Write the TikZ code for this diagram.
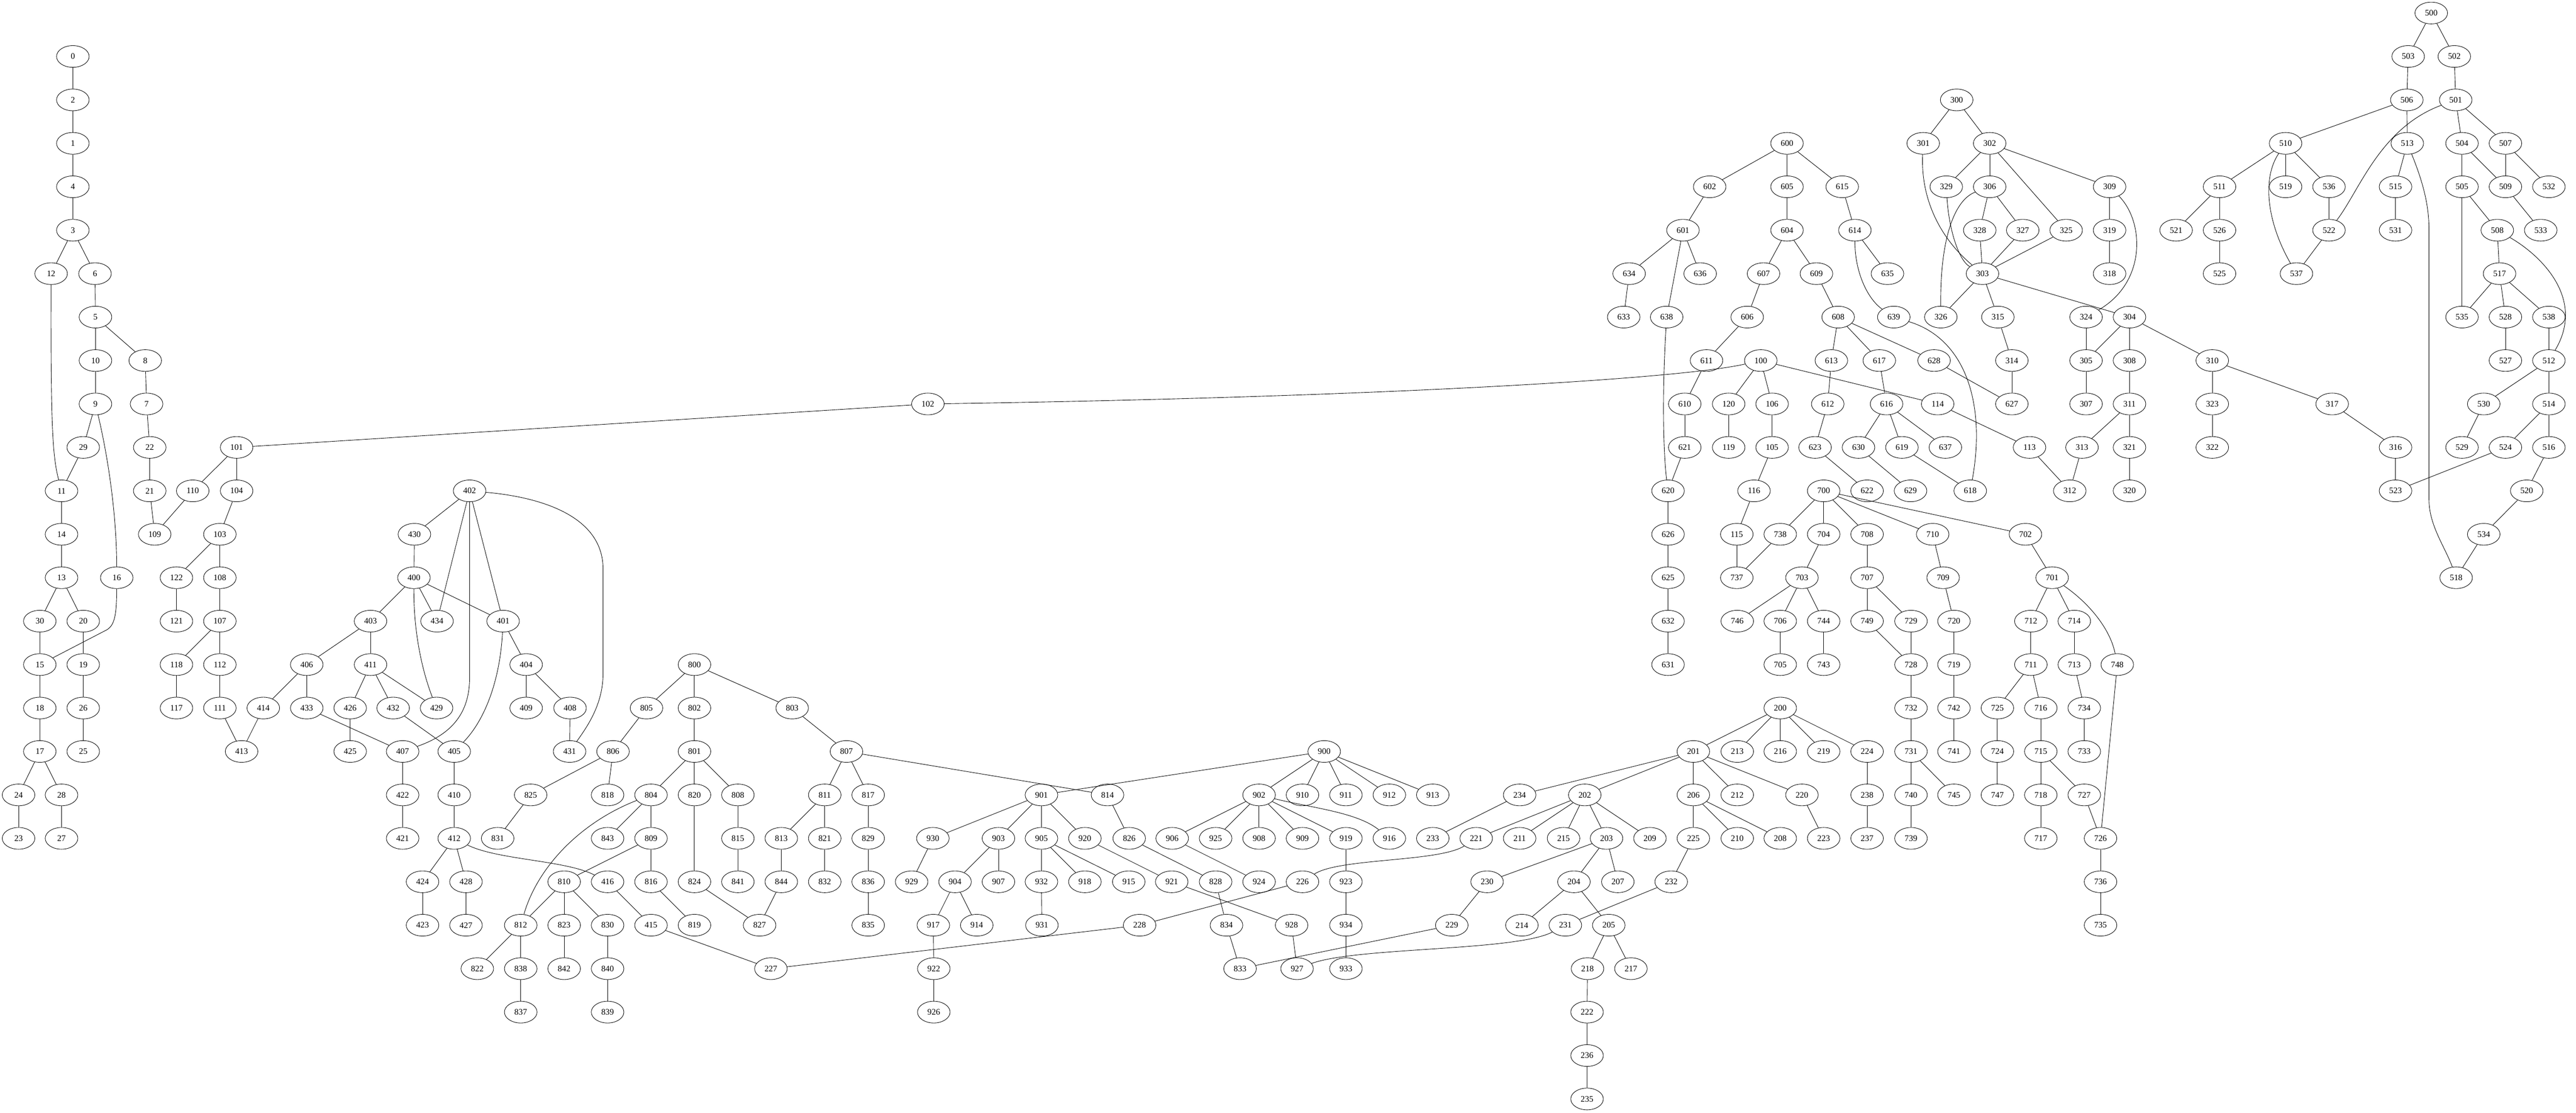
\documentclass[tikz,border=0pt]{standalone}
\usepackage{fontspec}
\setmainfont{Liberation Serif}
\usetikzlibrary{shapes.geometric}
\tikzset{
  g/.style={draw, ellipse, minimum width=54pt, minimum height=36pt, inner sep=0pt, line width=0.75pt, font=\fontsize{14}{16}\selectfont},
  e/.style={line width=0.75pt}
}
\begin{document}
\begin{tikzpicture}[x=0.75pt, y=-72pt]
\fill[white] (0,-0.3) rectangle (5694,25.315);
\useasboundingbox (0,-0.3) rectangle (5694,25.315);
% nodes
\foreach \n/\x/\r in {
0/161/1, 2/161/2, 1/161/3, 4/161/4, 3/161/5, 12/113/6, 6/210/6, 5/211/7, 10/211/8, 8/321/8, 9/211/9, 7/324/9, 29/184/10, 22/331/10, 101/523/10, 11/136/11, 21/331/11, 110/426/11, 104/523/11, 402/1038/11, 14/136/12, 109/342/12, 103/486/12, 430/916/12, 13/136/13, 16/258/13, 122/390/13, 108/486/13, 400/915/13, 30/88/14, 20/184/14, 121/390/14, 107/486/14, 403/819/14, 434/966/14, 401/1112/14, 15/88/15, 19/184/15, 118/390/15, 112/486/15, 406/678/15, 411/819/15, 404/1163/15, 18/88/16, 26/184/16, 117/390/16, 111/486/16, 414/582/16, 433/678/16, 426/774/16, 432/869/16, 429/965/16, 409/1163/16, 408/1260/16, 17/88/17, 25/184/17, 413/534/17, 425/774/17, 407/890/17, 405/1004/17, 431/1259/17, 24/41/18, 28/136/18, 422/890/18, 410/1004/18, 23/41/19, 27/136/19, 421/890/19, 412/1004/19, 424/934/20, 428/1030/20, 423/934/21, 427/1030/21,
800/1535/15, 805/1429/16, 802/1535/16, 803/1751/16, 806/1355/17, 801/1535/17, 807/1871/17, 825/1173/18, 818/1343/18, 804/1439/18, 820/1535/18, 808/1631/18, 811/1823/18, 817/1919/18, 814/2448/18, 831/1100/19, 843/1343/19, 809/1439/19, 815/1631/19, 813/1727/19, 821/1823/19, 829/1919/19, 826/2496/19, 810/1247/20, 416/1343/20, 816/1439/20, 824/1535/20, 841/1631/20, 844/1727/20, 832/1823/20, 836/1919/20, 828/2687/20, 812/1151/21, 823/1247/21, 830/1343/21, 415/1439/21, 819/1535/21, 827/1679/21, 835/1919/21, 834/2711/21, 822/1055/22, 838/1151/22, 842/1247/22, 840/1343/22, 227/1704/22, 833/2741/22, 837/1151/23, 839/1343/23,
900/2927/17, 901/2302/18, 902/2783/18, 910/2879/18, 911/2975/18, 912/3071/18, 913/3167/18, 930/2062/19, 903/2207/19, 905/2302/19, 920/2398/19, 906/2591/19, 925/2687/19, 908/2783/19, 909/2879/19, 919/2975/19, 916/3071/19, 929/2015/20, 904/2111/20, 907/2207/20, 932/2302/20, 918/2398/20, 915/2495/20, 921/2590/20, 924/2783/20, 226/2879/20, 923/2975/20, 917/2063/21, 914/2159/21, 931/2303/21, 228/2519/21, 928/2855/21, 934/2975/21, 922/2064/22, 927/2867/22, 933/2975/22, 926/2064/23,
200/3935/16, 201/3743/17, 213/3840/17, 216/3935/17, 219/4031/17, 224/4127/17, 234/3359/18, 202/3503/18, 206/3743/18, 212/3840/18, 220/3983/18, 238/4127/18, 233/3167/19, 221/3263/19, 211/3359/19, 215/3456/19, 203/3551/19, 209/3647/19, 225/3743/19, 210/3840/19, 208/3935/19, 223/4031/19, 237/4127/19, 230/3287/20, 204/3479/20, 207/3576/20, 232/3694/20, 229/3209/21, 214/3364/21, 231/3460/21, 205/3556/21, 218/3509/22, 217/3605/22, 222/3508/23, 236/3508/24, 235/3508/25,
102/2051/9,
600/3950/3, 602/3779/4, 605/3950/4, 615/4072/4, 601/3720/5, 604/3950/5, 614/4100/5, 634/3601/6, 636/3758/6, 607/3898/6, 609/4015/6, 635/4172/6, 633/3589/7, 638/3684/7, 606/3862/7, 608/4063/7, 639/4186/7, 611/3772/8, 100/3892/8, 613/4048/8, 617/4154/8, 628/4275/8, 610/3724/9, 120/3821/9, 106/3917/9, 612/4040/9, 616/4170/9, 114/4283/9, 621/3724/10, 119/3821/10, 105/3917/10, 623/4012/10, 630/4108/10, 619/4204/10, 637/4300/10, 620/3687/11, 116/3877/11, 700/4031/11, 622/4127/11, 629/4223/11, 618/4355/11, 626/3687/12, 115/3839/12, 738/3935/12, 704/4031/12, 708/4127/12, 710/4272/12, 702/4477/12, 625/3687/13, 737/3839/13, 703/3983/13, 707/4127/13, 709/4295/13, 701/4536/13, 632/3687/14, 746/3840/14, 706/3935/14, 744/4031/14, 749/4127/14, 729/4224/14, 720/4319/14, 712/4489/14, 714/4585/14, 631/3687/15, 705/3935/15, 743/4031/15, 728/4224/15, 719/4319/15, 711/4489/15, 713/4585/15, 748/4680/15, 732/4224/16, 742/4319/16, 725/4415/16, 716/4511/16, 734/4607/16, 731/4224/17, 741/4319/17, 724/4415/17, 715/4511/17, 733/4607/17, 740/4224/18, 745/4319/18, 747/4415/18, 718/4511/18, 727/4607/18, 739/4224/19, 717/4511/19, 726/4643/19, 736/4643/20, 735/4643/21,
300/4325/2, 301/4251/3, 302/4398/3, 329/4302/4, 306/4398/4, 309/4663/4, 328/4376/5, 327/4471/5, 325/4567/5, 319/4663/5, 303/4382/6, 318/4663/6, 326/4290/7, 315/4416/7, 324/4611/7, 304/4707/7, 314/4447/8, 305/4611/8, 308/4707/8, 310/4890/8, 627/4447/9, 307/4611/9, 311/4707/9, 323/4890/9, 317/5155/9, 113/4486/10, 313/4602/10, 321/4707/10, 322/4890/10, 316/5295/10, 312/4575/11, 320/4707/11, 523/5295/11,
500/5374/0, 503/5323/1, 502/5425/1, 506/5320/2, 501/5428/2, 510/5052/3, 513/5321/3, 504/5442/3, 507/5538/3, 511/4906/4, 519/5052/4, 536/5148/4, 515/5295/4, 505/5442/4, 509/5538/4, 532/5634/4, 521/4810/5, 526/4906/5, 522/5148/5, 531/5295/5, 508/5520/5, 533/5616/5, 525/4906/6, 537/5076/6, 517/5525/6, 535/5442/7, 528/5538/7, 538/5634/7, 527/5538/8, 512/5634/8, 530/5490/9, 514/5634/9, 529/5442/10, 524/5538/10, 516/5634/10, 520/5585/11, 534/5490/12, 518/5429/13}
  \node[g] (n\n) at (\x,\r) {\n};
% straight edges
\foreach \a/\b in {
0/2,2/1,1/4,4/3,3/12,3/6,6/5,5/10,5/8,10/9,8/7,7/22,22/21,21/109,9/29,29/11,11/14,14/13,13/30,13/20,30/15,20/19,15/18,19/26,18/17,26/25,17/24,17/28,24/23,28/27,
101/110,101/104,110/109,104/103,103/122,103/108,122/121,108/107,107/118,107/112,118/117,112/111,111/413,414/413,102/101,
402/430,430/400,402/434,402/401,400/403,400/434,400/401,403/406,403/411,406/414,406/433,411/426,411/432,411/429,433/407,426/425,432/405,401/404,404/409,404/408,408/431,407/422,405/410,422/421,410/412,412/424,412/428,424/423,428/427,416/415,415/227,
800/805,800/802,800/803,805/806,802/801,806/825,806/818,825/831,801/804,801/820,801/808,804/843,804/809,809/810,809/816,810/812,810/823,810/830,812/822,812/838,838/837,823/842,830/840,840/839,816/819,820/824,824/827,808/815,815/841,803/807,807/811,807/817,807/814,811/813,811/821,813/844,844/827,821/832,817/829,829/836,836/835,814/826,826/828,828/834,834/833,228/227,228/226,
900/901,900/902,900/910,900/911,900/912,900/913,901/930,901/903,901/905,901/920,930/929,903/904,903/907,904/917,904/914,917/922,922/926,905/932,905/918,905/915,932/931,920/921,921/928,928/927,902/906,902/925,902/908,902/909,902/919,906/924,919/923,923/934,934/933,
200/201,200/213,200/216,200/219,200/224,201/234,201/202,201/206,201/212,201/220,234/233,202/221,202/211,202/215,202/203,202/209,203/230,203/204,203/207,230/229,204/214,204/205,205/218,205/217,218/222,222/236,236/235,206/225,206/210,206/208,225/232,232/231,220/223,224/238,238/237,229/833,
600/602,600/605,600/615,602/601,605/604,615/614,601/634,601/638,601/636,634/633,604/607,604/609,614/635,607/606,609/608,606/611,611/610,610/621,621/620,620/626,626/625,625/632,632/631,608/613,608/617,608/628,613/612,612/623,623/622,617/616,616/630,616/619,616/637,630/629,619/618,628/627,
100/120,100/106,100/114,120/119,106/105,105/116,116/115,115/737,114/113,113/312,
700/738,700/704,700/708,700/710,700/702,738/737,704/703,703/746,703/706,703/744,706/705,744/743,708/707,707/749,707/729,749/728,729/728,728/732,732/731,731/740,731/745,740/739,710/709,709/720,720/719,719/742,742/741,702/701,701/712,701/714,712/711,711/725,711/716,725/724,724/747,716/715,715/718,715/727,718/717,727/726,748/726,726/736,736/735,714/713,713/734,734/733,
300/301,300/302,302/329,302/306,302/325,302/309,306/328,306/327,328/303,327/303,325/303,303/326,303/315,303/304,309/319,319/318,315/314,314/627,324/305,304/305,304/308,304/310,305/307,308/311,311/313,311/321,313/312,321/320,310/323,310/317,323/322,317/316,316/523,
500/503,500/502,503/506,502/501,506/510,506/513,501/504,501/507,510/511,510/519,510/536,511/521,511/526,526/525,536/522,522/537,513/515,515/531,504/505,504/509,507/509,507/532,509/533,505/535,505/508,508/517,517/535,517/528,517/538,528/527,538/512,512/530,512/514,530/529,514/524,514/516,524/523,516/520,520/534,534/518}
  \draw[e] (n\a) -- (n\b);
% curved edges
\draw[e] (n100) .. controls (3700,8.45) and (3000,8.85) .. (n102);
\draw[e] (n12) .. controls (112,9.5) and (116,10.2) .. (n11);
\draw[e] (n9) .. controls (245,10.5) and (258,11.8) .. (n16);
\draw[e] (n16) .. controls (258,13.9) and (252,14.1) .. (236,14.2) -- (n15);
\draw[e] (n402) -- (1038,15.3) .. controls (1038,16.1) and (1000,16.6) .. (n407);
\draw[e] (n402) .. controls (1200,11.15) and (1333,11.6) .. (1333,12.8) -- (1333,15.2) .. controls (1333,15.9) and (1300,16.4) .. (n431);
\draw[e] (n400) .. controls (914,14.3) and (935,15.2) .. (n429);
\draw[e] (n401) .. controls (1105,15.4) and (1070,16.3) .. (n405);
\draw[e] (n412) .. controls (1100,19.5) and (1250,19.5) .. (n416);
\draw[e] (n804) .. controls (1290,18.6) and (1190,19.6) .. (n812);
\draw[e] (n221) .. controls (3180,19.55) and (2960,19.45) .. (n226);
\draw[e] (n231) .. controls (3350,21.6) and (3000,21.5) .. (n927);
\draw[e] (n902) .. controls (2900,18.3) and (3000,18.4) .. (n916);
\draw[e] (n301) .. controls (4245,4.3) and (4290,5.2) .. (n303);
\draw[e] (n306) .. controls (4320,4.3) and (4288,5.2) .. (n326);
\draw[e] (n329) .. controls (4308,5.0) and (4330,5.7) .. (n303);
\draw[e] (n309) .. controls (4740,4.8) and (4745,6.2) .. (n324);
\draw[e] (n614) .. controls (4100,6.0) and (4130,6.6) .. (n639);
\draw[e] (n639) .. controls (4345,7.5) and (4390,9.0) .. (n618);
\draw[e] (n638) .. controls (3675,8.5) and (3675,10) .. (n620);
\draw[e] (n510) .. controls (5000,3.8) and (5010,4.8) .. (n537);
\draw[e] (n501) .. controls (5260,2.65) and (5215,4.1) .. (n522);
\draw[e] (n513) .. controls (5360,4.0) and (5369,4.5) .. (5369,5.0) -- (5369,11.2) .. controls (5369,11.8) and (5405,12.3) .. (n518);
\draw[e] (n508) .. controls (5620,5.6) and (5715,6.6) .. (n512);
\draw[e] (n701) .. controls (4620,13.6) and (4665,14.2) .. (n748);
\end{tikzpicture}
\end{document}
